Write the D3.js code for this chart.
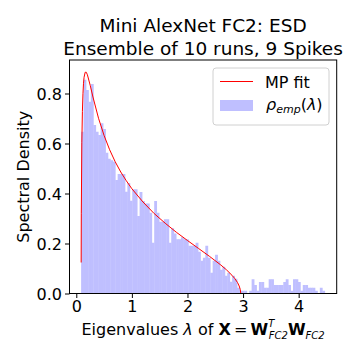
<!DOCTYPE html>
<html><head><meta charset="utf-8">
<script src="https://cdn.jsdelivr.net/npm/d3@7/dist/d3.min.js"></script>
<style>body{margin:0;background:#fff} text{font-family:"DejaVu Sans",sans-serif;fill:#000}</style>
</head><body><svg id="c" width="360" height="360"></svg>
<script>
const titleLines = ["Mini AlexNet FC2: ESD", "Ensemble of 10 runs, 9 Spikes"];
const xTicks = [0, 1, 2, 3, 4];
const yTicks = [0.0, 0.2, 0.4, 0.6, 0.8];
const yTickLabels = ["0.0", "0.2", "0.4", "0.6", "0.8"];
const eigMin = 0.087, eigMax = 4.468, nBins = 100;
const histDensity = [
  0.647,0.855,0.814,0.767,0.838,0.674,0.647,0.634,0.681,0.658,
  0.563,0.539,0.533,0.527,0.454,0.478,0.478,0.478,0.407,0.442,
  0.371,0.417,0.417,0.310,0.406,0.370,0.360,0.360,0.323,0.203,
  0.370,0.323,0.287,0.287,0.297,0.297,0.203,0.261,0.240,0.217,
  0.217,0.225,0.217,0.217,0.191,0.191,0.191,0.203,0.167,0.131,
  0.143,0.191,0.143,0.083,0.131,0.155,0.131,0.095,0.107,0.071,
  0.083,0.047,0.071,0.059,0.023,0.011,0.011,0.011,0.000,0.011,
  0.057,0.034,0.011,0.046,0.046,0.023,0.023,0.057,0.057,0.034,
  0.034,0.034,0.034,0.046,0.057,0.034,0.011,0.057,0.057,0.046,
  0.011,0.034,0.034,0.023,0.023,0.023,0.011,0.000,0.023,0.011
];
// MP fit curve
const mpLambda = [0.0875,0.09,0.1,0.11,0.12,0.13,0.14,0.16,0.18,0.2,0.25,0.3,0.4,0.5,0.6,0.7,0.8,0.9,1.0,1.2,1.4,1.6,1.8,2.0,2.2,2.4,2.6,2.7,2.8,2.85,2.9,2.93,2.95,2.958];
const mpDensity = [0.124,0.319,0.603,0.728,0.799,0.841,0.865,0.885,0.885,0.875,0.833,0.786,0.701,0.632,0.575,0.527,0.486,0.451,0.419,0.366,0.320,0.281,0.245,0.212,0.180,0.148,0.114,0.095,0.073,0.060,0.044,0.030,0.016,0.0];

const svg = d3.select("#c");
const L = 69.5, R = 336.7, T = 60, B = 293.5;
const x = d3.scaleLinear().domain([-0.122, 4.684]).range([L, R]);
const y = d3.scaleLinear().domain([0, 0.934]).range([B, T]);

// histogram bars
const bw = (eigMax - eigMin) / nBins;
const bins = histDensity.map((d, i) => ({x0: eigMin + i * bw, x1: eigMin + (i + 1) * bw, d}));
svg.append("g").selectAll("rect").data(bins.filter(b => b.d > 0)).join("rect")
  .attr("x", b => x(b.x0))
  .attr("width", b => x(b.x1) - x(b.x0) + 0.4)
  .attr("y", b => y(b.d))
  .attr("height", b => y(0) - y(b.d))
  .attr("fill", "#bfbfff");

// MP curve
const line = d3.line().x((d, i) => x(mpLambda[i])).y(d => y(d));
svg.append("path").datum(mpDensity).attr("d", line)
  .attr("fill", "none").attr("stroke", "#ff0000").attr("stroke-width", 1);

// frame
svg.append("rect").attr("x", L).attr("y", T).attr("width", R - L).attr("height", B - T)
  .attr("fill", "none").attr("stroke", "#000").attr("stroke-width", 1);

// axes
const xAxis = d3.axisBottom(x).tickValues(xTicks).tickFormat(d3.format("d")).tickSize(4.5).tickPadding(3);
const gx = svg.append("g").attr("transform", `translate(0,${B})`).call(xAxis);
gx.select(".domain").remove();
gx.selectAll("text").attr("font-size", 16).attr("font-family", "DejaVu Sans").attr("fill", "#000");
const yAxis = d3.axisLeft(y).tickValues(yTicks).tickFormat((d, i) => yTickLabels[i]).tickSize(4.5).tickPadding(3);
const gy = svg.append("g").attr("transform", `translate(${L},0)`).call(yAxis);
gy.select(".domain").remove();
gy.selectAll("text").attr("font-size", 16).attr("font-family", "DejaVu Sans").attr("fill", "#000").attr("dy", "0.36em");

// title
const cx = (L + R) / 2;
svg.append("text").attr("x", cx).attr("y", 31.5).attr("text-anchor", "middle").attr("font-size", 18.5).text(titleLines[0]);
svg.append("text").attr("x", cx).attr("y", 55).attr("text-anchor", "middle").attr("font-size", 18.5).text(titleLines[1]);

// y label
svg.append("text").attr("transform", `translate(29,${(T + B) / 2}) rotate(-90)`).attr("text-anchor", "middle")
  .attr("font-size", 16).text("Spectral Density");

// x label
const xl = svg.append("text").attr("x", cx).attr("y", 335).attr("text-anchor", "middle").attr("font-size", 16);
xl.append("tspan").text("Eigenvalues ");
xl.append("tspan").attr("font-style", "italic").text("λ");
xl.append("tspan").text(" of ");
xl.append("tspan").attr("font-weight", "bold").text("X");
xl.append("tspan").text("\u2009=\u2009");
xl.append("tspan").attr("font-weight", "bold").text("W");
xl.append("tspan").attr("font-style", "italic").attr("font-size", 10).attr("dy", -8).text("T");
xl.append("tspan").attr("font-style", "italic").attr("font-size", 10).attr("dx", -5.5).attr("dy", 12).text("FC2");
xl.append("tspan").attr("font-weight", "bold").attr("dy", -4).text("W");
xl.append("tspan").attr("font-style", "italic").attr("font-size", 10).attr("dy", 4).text("FC2");

// legend
const lg = svg.append("g");
lg.append("rect").attr("x", 213).attr("y", 68).attr("width", 116).attr("height", 57).attr("rx", 3)
  .attr("fill", "#fff").attr("fill-opacity", 0.8).attr("stroke", "#d0d0d0").attr("stroke-width", 1);
lg.append("line").attr("x1", 220).attr("x2", 253).attr("y1", 81.5).attr("y2", 81.5).attr("stroke", "#ff0000").attr("stroke-width", 1);
lg.append("text").attr("x", 265).attr("y", 87.5).attr("font-size", 16).text("MP fit");
lg.append("rect").attr("x", 220).attr("y", 100).attr("width", 33).attr("height", 11).attr("fill", "#bfbfff");
const lt = lg.append("text").attr("x", 266).attr("y", 110).attr("font-size", 16);
lt.append("tspan").attr("font-style", "italic").text("ρ");
lt.append("tspan").attr("font-style", "italic").attr("font-size", 11).attr("dy", 3).text("emp");
lt.append("tspan").attr("dy", -3).text("(");
lt.append("tspan").attr("font-style", "italic").text("λ");
lt.append("tspan").text(")");
</script>
</body></html>
